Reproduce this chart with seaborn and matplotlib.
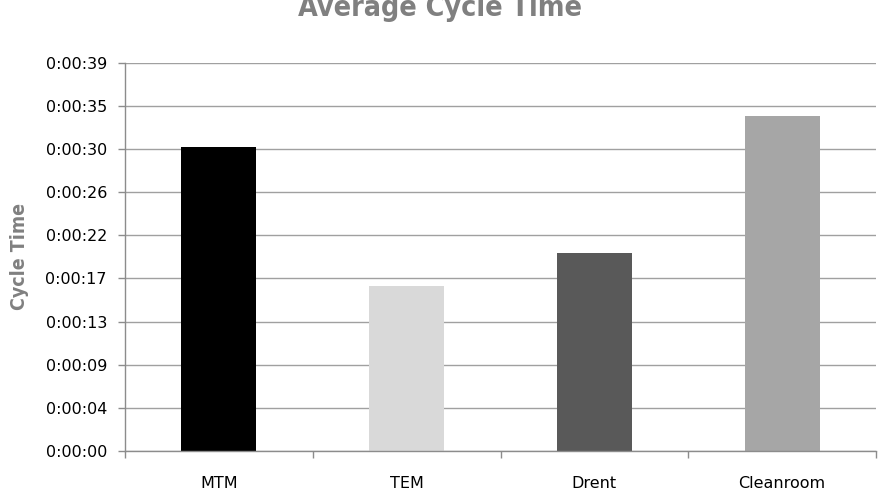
import numpy as np
import pandas as pd
import matplotlib
matplotlib.use("Agg")
import matplotlib.pyplot as plt
import seaborn as sns
from matplotlib.ticker import FuncFormatter, FixedLocator

# data (seconds)
methods = ["MTM", "TEM", "Drent", "Cleanroom"]
cycle_seconds = [30.55, 16.6, 19.85, 33.6]
bar_colors = ["#000000", "#d9d9d9", "#595959", "#a6a6a6"]
y_ticks = np.linspace(0, 39, 10)

df = pd.DataFrame({"method": methods, "seconds": cycle_seconds})

sns.set_style("white")
plt.rcParams["font.family"] = ["DejaVu Sans"]

fig = plt.figure(figsize=(8.84, 4.96), dpi=100)
ax = fig.add_axes([0.1414, 0.0907, 0.8496, 0.7829])

sns.barplot(data=df, x="method", y="seconds", hue="method",
            palette=bar_colors, width=0.4, legend=False, ax=ax,
            saturation=1, linewidth=0)

def fmt(v, pos):
    s = int(round(v))
    return f"{s // 3600}:{(s // 60) % 60:02d}:{s % 60:02d}"

ax.set_ylim(0, 39)
ax.yaxis.set_major_locator(FixedLocator(y_ticks))
ax.yaxis.set_major_formatter(FuncFormatter(fmt))
ax.set_xlim(-0.5, 3.5)

grid_c = "#a0a0a0"
ax.yaxis.grid(True, color=grid_c, linewidth=1.0)
ax.set_axisbelow(True)
for side in ["top", "right"]:
    ax.spines[side].set_visible(False)
for side in ["left", "bottom"]:
    ax.spines[side].set_color("#8c8c8c")
    ax.spines[side].set_linewidth(1.0)

ax.tick_params(axis="y", left=True, length=5, width=1, color="#8c8c8c",
               pad=8, labelsize=11.5, labelcolor="black")
ax.tick_params(axis="x", bottom=False, length=0, pad=18,
               labelsize=11.5, labelcolor="black")
ax.xaxis.set_minor_locator(FixedLocator(np.arange(-0.5, 4.0, 1.0)))
ax.tick_params(axis="x", which="minor", bottom=True, length=5, width=1,
               color="#8c8c8c")

ax.set_xlabel("")
ax.set_ylabel("Cycle Time", fontsize=14, fontweight="bold", color="#808080",
              fontstretch="condensed")
ax.yaxis.set_label_coords(-0.128, 0.5)

fig.text(0.498, 0.968, "Average Cycle Time", ha="center", va="baseline",
         fontsize=20.5, fontweight="bold", color="#808080",
         fontstretch="condensed")

fig.savefig("out.png", dpi=100)
